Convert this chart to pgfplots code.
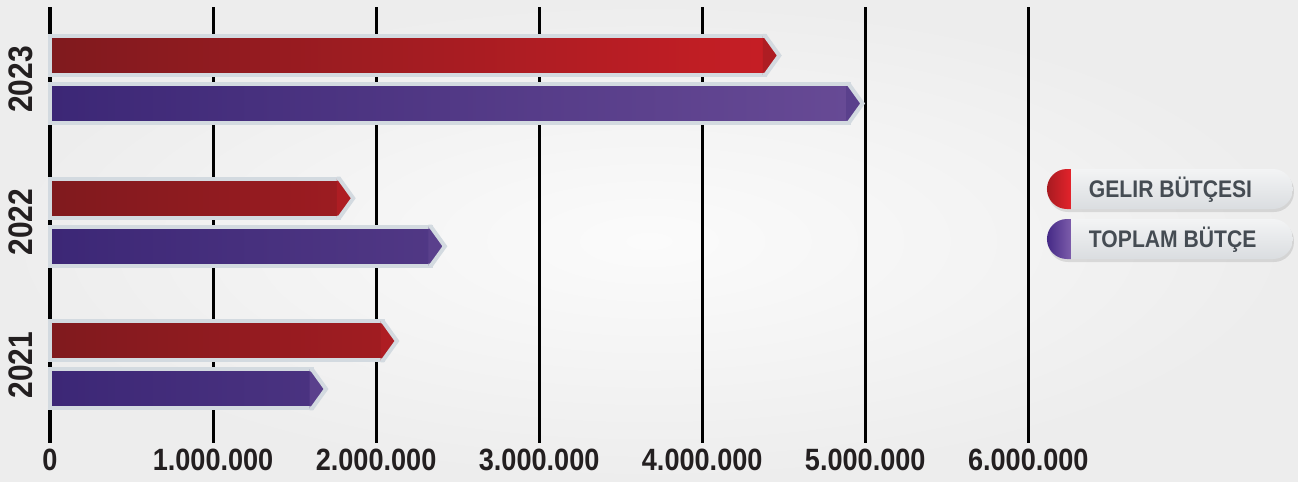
\documentclass[border=0pt]{standalone}
\usepackage{pgfplots}
\pgfplotsset{compat=1.18}
\usepackage{pgfplotstable}
\usepackage{fontspec}
\setmainfont{Liberation Sans}
\newfontfamily\cond[FakeStretch=0.88]{Liberation Sans}
\definecolor{bord}{HTML}{D3DAE0}
\definecolor{redL}{HTML}{801A1E}
\definecolor{redR}{HTML}{C61E25}
\definecolor{redT}{HTML}{AE1D23}
\definecolor{purL}{HTML}{3C2776}
\definecolor{purR}{HTML}{674A95}
\definecolor{purT}{HTML}{5A408C}
\definecolor{pillhi}{HTML}{F3F4F5}
\definecolor{pilllo}{HTML}{DADDE0}
\definecolor{txt}{HTML}{454C53}
\definecolor{tickc}{HTML}{231F20}
\definecolor{pillredL}{HTML}{A81B21}
\definecolor{pillredR}{HTML}{E3232B}
\definecolor{pillpurL}{HTML}{452A86}
\definecolor{pillpurR}{HTML}{7C5CAA}
\definecolor{bgin}{HTML}{FBFBFB}
\definecolor{bgout}{HTML}{EDEDED}

\pgfdeclareverticalshading{pillgray}{100bp}{color(0bp)=(pilllo); color(25bp)=(pilllo); color(75bp)=(pillhi); color(100bp)=(pillhi)}
\pgfdeclarehorizontalshading{pillred}{100bp}{color(0bp)=(pillredL); color(25bp)=(pillredL); color(75bp)=(pillredR); color(100bp)=(pillredR)}
\pgfdeclarehorizontalshading{pillpur}{100bp}{color(0bp)=(pillpurL); color(25bp)=(pillpurL); color(75bp)=(pillpurR); color(100bp)=(pillpurR)}

\pgfdeclareplotmark{tipup}{%
  \pgfpathmoveto{\pgfpoint{-1.2pt}{21.75pt}}%
  \pgfpathlineto{\pgfpoint{0pt}{21.75pt}}%
  \pgfpathlineto{\pgfpoint{7pt}{12pt}}%
  \pgfpathlineto{\pgfpoint{0pt}{2.25pt}}%
  \pgfpathlineto{\pgfpoint{-1.2pt}{2.25pt}}%
  \pgfusepathqfillstroke}
\pgfdeclareplotmark{tipdown}{%
  \pgfpathmoveto{\pgfpoint{-1.2pt}{-2.25pt}}%
  \pgfpathlineto{\pgfpoint{0pt}{-2.25pt}}%
  \pgfpathlineto{\pgfpoint{7pt}{-12pt}}%
  \pgfpathlineto{\pgfpoint{0pt}{-21.75pt}}%
  \pgfpathlineto{\pgfpoint{-1.2pt}{-21.75pt}}%
  \pgfusepathqfillstroke}

\pgfplotsset{
  pill/.style={legend image code/.code={
      \pgfpathrectangle{\pgfpoint{0pt}{-10pt}}{\pgfpoint{12pt}{20pt}}%
      \pgfusepath{discard}%
      \begin{pgfscope}
        \tikzset{overlay}%
        \pgfsetcornersarced{\pgfpoint{10pt}{10pt}}%
        \pgfsetfillcolor{black}\pgfsetfillopacity{0.10}%
        \pgfpathrectangle{\pgfpoint{0.5pt}{-11.5pt}}{\pgfpoint{123pt}{20.5pt}}%
        \pgfusepath{fill}%
        \pgfsetfillopacity{1}%
        \begin{pgfscope}
          \pgfpathrectangle{\pgfpoint{0pt}{-10pt}}{\pgfpoint{123pt}{20pt}}%
          \pgfusepath{clip}%
          \pgfsetcornersarced{\pgfpointorigin}%
          \pgfpathrectangle{\pgfpoint{0pt}{-10pt}}{\pgfpoint{123pt}{20pt}}%
          \pgfshadepath{pillgray}{0}%
          \pgfusepath{discard}%
          \pgfpathrectangle{\pgfpoint{0pt}{-10pt}}{\pgfpoint{12pt}{20pt}}%
          \pgfshadepath{#1}{0}%
          \pgfusepath{discard}%
        \end{pgfscope}
      \end{pgfscope}
  }},
}

\pgfplotstableread{
y v
0 2122000
1 1854000
2 4467000
}\gelir
\pgfplotstableread{
y v
0 1687000
1 2416000
2 4978000
}\toplam

\begin{document}
\begin{tikzpicture}
\shade[inner color=bgin,outer color=bgout] (0pt,-19.5pt) rectangle (649pt,221.5pt);
\begin{axis}[
  at={(0pt,0pt)}, anchor=south west, scale only axis,
  width=649pt, height=218pt,
  xmin=-306654, xmax=7654094, ymin=-0.5464, ymax=2.5079,
  axis line style={draw=none}, tick style={draw=none}, major tick length=0pt,
  xtick={0,1000000,2000000,3000000,4000000,5000000,6000000},
  xticklabels={0,1.000.000,2.000.000,3.000.000,4.000.000,5.000.000,6.000.000},
  scaled x ticks=false,
  xmajorgrids, ymajorgrids=false,
  grid style={black, line width=1.5pt},
  ytick={0,1,2}, yticklabels={2021,2022,2023},
  xticklabel style={font=\cond\bfseries\fontsize{15.4}{16}\selectfont, text=tickc, anchor=base, yshift=-14pt},
  yticklabel style={font=\cond\bfseries\fontsize{17}{18}\selectfont, text=tickc, xshift=10.5pt, rotate=90, anchor=center},
  clip=false,
  legend style={at={(0.8066,0.6284)}, anchor=north west, draw=none, fill=none,
    inner sep=0pt, outer sep=0pt, row sep=5pt, column sep=7pt,
    font=\cond\bfseries\fontsize{12}{13}\selectfont, text=txt,
    cells={anchor=base west}},
  legend cell align=left,
]
\addplot[xbar, bar width=19.5pt, bar shift=12pt, draw=bord, line width=2pt,
  left color=redL, right color=redR, pill=pillred]
  table[x expr=\thisrow{v}-80000, y=y] {\gelir};
\addlegendentry{GELIR BÜTÇESI}
\addplot[xbar, bar width=19.5pt, bar shift=-12pt, draw=bord, line width=2pt,
  left color=purL, right color=purR, pill=pillpur]
  table[x expr=\thisrow{v}-80000, y=y] {\toplam};
\addlegendentry{TOPLAM BÜTÇE}
\addplot[only marks, mark=tipup, mark options={draw=bord, fill=redT, line width=2pt, solid}, forget plot]
  table[x expr=\thisrow{v}-80000, y=y] {\gelir};
\addplot[only marks, mark=tipdown, mark options={draw=bord, fill=purT, line width=2pt, solid}, forget plot]
  table[x expr=\thisrow{v}-80000, y=y] {\toplam};
\end{axis}
\end{tikzpicture}
\end{document}
